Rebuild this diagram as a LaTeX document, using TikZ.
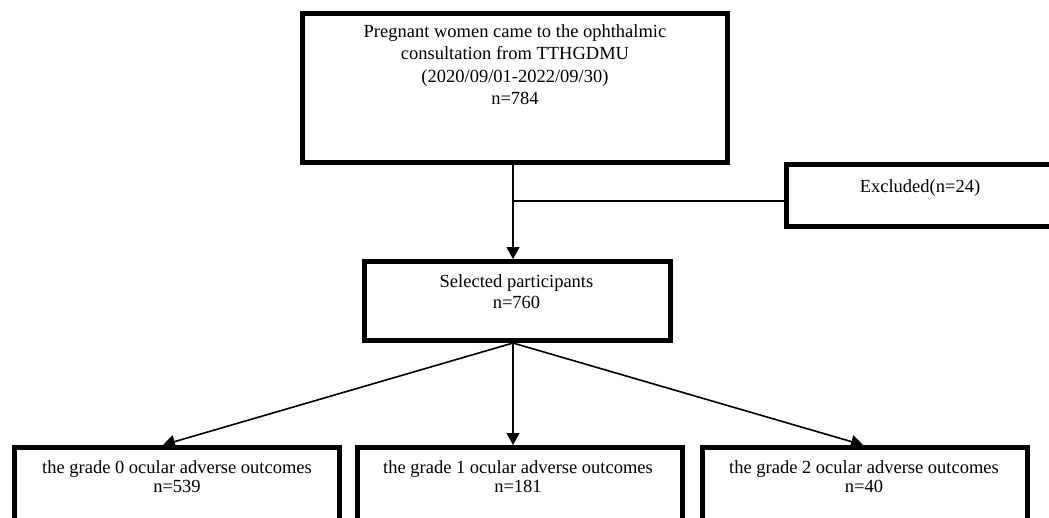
\documentclass[tikz,border=0pt]{standalone}
\usepackage{fontspec}
\setmainfont{Liberation Serif}
\usetikzlibrary{arrows.meta}
\begin{document}
\begin{tikzpicture}[x=1pt,y=-1pt,
  box/.style={draw=black, line width=5pt, rectangle, inner sep=0pt},
  txt/.style={align=center, inner sep=0pt, anchor=north},
  conn/.style={line width=1.6pt},
  arr/.style={conn, -{Triangle[length=12pt,width=13pt]}}]
\useasboundingbox (0,0) rectangle (1049,517);
\clip (0,0) rectangle (1049,517);
% boxes
\node[box, minimum width=425pt, minimum height=149pt] (top) at (515,88) {};
\node[txt, font=\fontsize{18.5}{22.5}\selectfont] (toptxt) at ([yshift=-13.2pt]top.north)
  {Pregnant women came to the ophthalmic\\consultation from TTHGDMU\\(2020/09/01-2022/09/30)\\n=784};
\node[box, minimum width=270pt, minimum height=62pt] (ex) at (921.5,195.5) {};
\node[txt, font=\fontsize{18.5}{22}\selectfont] (extxt) at ([xshift=-1.5pt,yshift=-17.4pt]ex.north) {Excluded(n=24)};
\node[box, minimum width=306pt, minimum height=79pt] (sel) at (517.5,301) {};
\node[txt, font=\fontsize{18.5}{21.5}\selectfont] (seltxt) at ([xshift=-1pt,yshift=-15.4pt]sel.north)
  {Selected participants\\n=760};
\node[box, minimum width=325pt, minimum height=93pt] (b1) at (177,494) {};
\node[txt, font=\fontsize{18.5}{19}\selectfont] (b1txt) at ([yshift=-15.4pt]b1.north)
  {the grade 0 ocular adverse outcomes\\n=539};
\node[box, minimum width=325pt, minimum height=93pt] (b2) at (520,494) {};
\node[txt, font=\fontsize{18.5}{19}\selectfont] (b2txt) at ([xshift=-2pt,yshift=-15.4pt]b2.north)
  {the grade 1 ocular adverse outcomes\\n=181};
\node[box, minimum width=325pt, minimum height=93pt] (b3) at (865,494) {};
\node[txt, font=\fontsize{18.5}{19}\selectfont] (b3txt) at ([xshift=-1pt,yshift=-15.4pt]b3.north)
  {the grade 2 ocular adverse outcomes\\n=40};
% connectors
\coordinate (sp) at (513,0);
\coordinate (j) at (513,201);
\draw[arr] (top.south -| sp) -- (sel.north -| sp);
\draw[conn] (j) -- (j -| ex.west);
\draw[arr] (sel.south -| sp) -- ([xshift=-14pt]b1.north);
\draw[arr] (sel.south -| sp) -- (b2.north -| sp);
\draw[arr] (sel.south -| sp) -- ([xshift=-2pt]b3.north);
\end{tikzpicture}
\end{document}
